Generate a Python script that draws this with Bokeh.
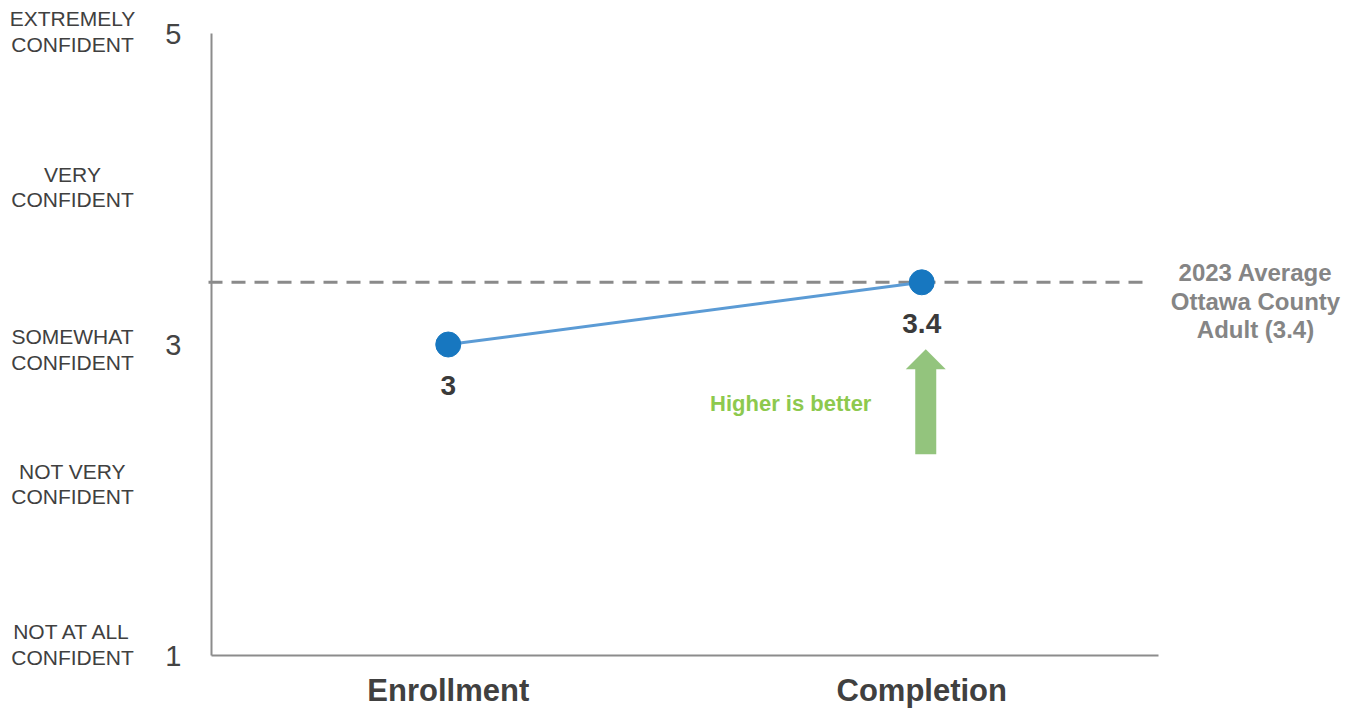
from bokeh.plotting import figure
from bokeh.models import Range1d, FixedTicker, Label, LabelSet, ColumnDataSource, LinearAxis
from bokeh.core.properties import value
from bokeh.embed import file_html
from bokeh.resources import INLINE

# ---- data -------------------------------------------------------------
stages = ["Enrollment", "Completion"]
scores = [3.0, 3.4]
score_labels = ["3", "3.4"]
benchmark = 3.4
benchmark_lines = ["2023 Average", "Ottawa County", "Adult (3.4)"]
scale_ticks = [1, 3, 5]
level_values = [5, 4, 3, 2, 1]
level_names = [
    ["EXTREMELY", "CONFIDENT"],
    ["VERY", "CONFIDENT"],
    ["SOMEWHAT", "CONFIDENT"],
    ["NOT VERY", "CONFIDENT"],
    ["NOT AT ALL", "CONFIDENT"],
]
callout_text = "Higher is better"

# ---- layout -----------------------------------------------------------
W, H = 1357, 711
LEFT, RIGHT, TOP, BOTTOM = 211, 199, 33, 56   # margins around the plotting area
FONT = "Liberation Sans"
level_nudge = [2, 2, -5, 16, 11]  # px tweaks for each scale caption

n = len(stages)
y_lo, y_hi = 1, 5
px_x = n / (W - LEFT - RIGHT)
px_y = (y_hi - y_lo) / (H - TOP - BOTTOM)

# The frame spans the whole canvas so that captions in the margins are drawn;
# the axes are pinned to the plotting area with fixed_location / bounds.
p = figure(
    width=W, height=H,
    x_range=Range1d(-LEFT * px_x, n + RIGHT * px_x),
    y_range=Range1d(y_lo - BOTTOM * px_y, y_hi + TOP * px_y),
    x_axis_location=None, y_axis_location=None,
    output_backend="svg", toolbar_location=None, tools="",
    min_border=0,
)
p.grid.visible = False
p.outline_line_color = None
p.background_fill_color = "white"
p.border_fill_color = "white"

xs = [i + 0.5 for i in range(n)]


def style_axis(ax):
    ax.major_tick_out = 0
    ax.major_tick_in = 0
    ax.minor_tick_out = 0
    ax.minor_tick_in = 0
    ax.axis_line_color = "#8c8c8c"
    ax.axis_line_width = 2
    ax.major_label_text_font = FONT


# y axis: numeric scale 1 / 3 / 5
ya = LinearAxis(fixed_location=0, bounds=(y_lo, y_hi), ticker=FixedTicker(ticks=scale_ticks))
style_axis(ya)
ya.major_label_text_font_size = "29px"
ya.major_label_text_color = "#444444"
ya.major_label_standoff = 30
p.add_layout(ya, "left")

# x axis: the two survey points
xa = LinearAxis(fixed_location=y_lo, bounds=(0, n), ticker=FixedTicker(ticks=xs))
style_axis(xa)
xa.major_label_overrides = {x: s for x, s in zip(xs, stages)}
xa.major_label_text_font_size = "31px"
xa.major_label_text_font_style = "bold"
xa.major_label_text_color = "#404040"
xa.major_label_standoff = 17
p.add_layout(xa, "below")

# county benchmark (dashed reference line)
p.segment(x0=[-3 * px_x], y0=[benchmark], x1=[n - 8 * px_x], y1=[benchmark],
          line_color="#8a8a8a", line_width=3, line_dash="14 9")

# score trend
p.line(xs, scores, line_color="#5b9bd5", line_width=3)
p.scatter(xs, scores, size=25, fill_color="#1777c0", line_color="#1777c0")

src = ColumnDataSource(dict(x=xs, y=scores, t=score_labels))
p.add_layout(LabelSet(
    x="x", y="y", text="t", source=src, y_offset=-41,
    text_align="center", text_baseline="middle",
    text_font=value(FONT), text_font_size=value("28px"),
    text_font_style="bold", text_color="#3a3a3a",
))

# "higher is better" arrow beside the completion score
ax, ay = xs[1], scores[1]
arrow_dx = [-6.5, 14.5, 14.5, 24, 4, -16, -6.5]
arrow_dy = [-172, -172, -87, -87, -67, -87, -87]
p.patch([ax + d * px_x for d in arrow_dx], [ay + d * px_y for d in arrow_dy],
        fill_color="#93c47d", line_color=None)
p.add_layout(Label(
    x=ax, y=ay, x_offset=-131, y_offset=-121, text=callout_text,
    text_align="center", text_baseline="middle",
    text_font=FONT, text_font_size="22px", text_font_style="bold",
    text_color="#8dc94e",
))

# benchmark caption to the right of the plotting area
bench_step = 28.5
for i, line in enumerate(benchmark_lines):
    p.add_layout(Label(
        x=n, y=benchmark, x_offset=97,
        y_offset=-19 + (1 - i) * bench_step, text=line,
        text_align="center", text_baseline="middle",
        text_font=FONT, text_font_size="24px", text_font_style="bold",
        text_color="#858585",
    ))

# verbal scale captions on the far left
cap_step = 25.5
for lv, name, nudge in zip(level_values, level_names, level_nudge):
    for i, line in enumerate(name):
        p.add_layout(Label(
            x=0, y=lv, x_offset=-139,
            y_offset=nudge + (0.5 - i) * cap_step, text=line,
            text_align="center", text_baseline="middle",
            text_font=FONT, text_font_size="21px", text_color="#404040",
        ))

open("out.html", "w").write(file_html(p, INLINE))
